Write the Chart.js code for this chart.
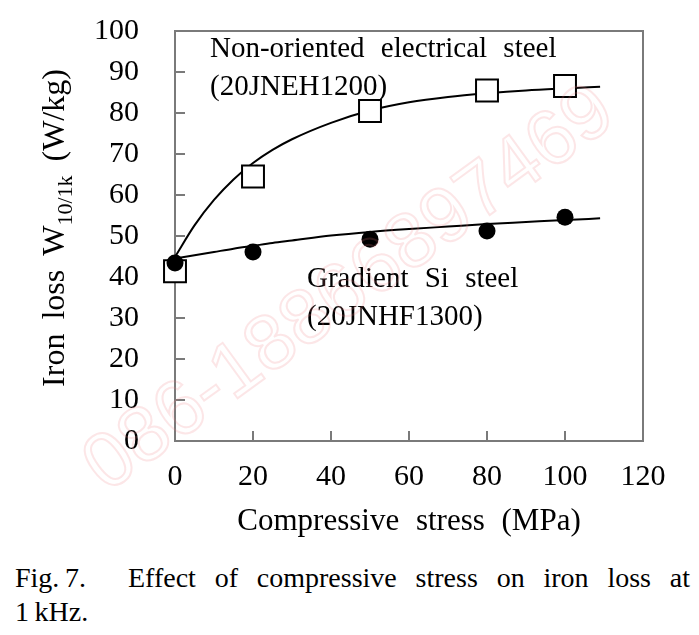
<!DOCTYPE html>
<html>
<head>
<meta charset="utf-8">
<script src="https://cdn.jsdelivr.net/npm/chart.js@4.4.1/dist/chart.umd.min.js"></script>
<style>
  html, body { margin: 0; padding: 0; background: #fff; width: 699px; height: 635px; overflow: hidden; }
  #chartBox { position: absolute; left: 0; top: -15px; width: 699px; height: 563px; }
  #caption { position: absolute; left: 15px; top: 561px; width: 675px;
    font-family: "Liberation Serif", "Times New Roman", serif; font-size: 28px; line-height: 34px; color: #000; }
  #caption .l1 { text-align: justify; text-align-last: justify; }
</style>
</head>
<body>
<div id="chartBox"><canvas id="chart" width="699" height="563"></canvas></div>
<div id="caption">
  <div class="l1">Fig.&#8201;7.&#8195;&#8194;Effect of compressive stress on iron loss at</div>
  <div>1&#8201;kHz.</div>
</div>
<script>
// ---- data ----
const stressMPa       = [0, 20, 50, 80, 100];
const nonOrientedLoss = [41.4, 64.5, 80.5, 85.5, 86.6];
const gradientLoss    = [43.4, 46.1, 49.2, 51.2, 54.6];

// fitted curves drawn in the figure
const fitStress      = [0, 5, 10, 15, 20, 25, 30, 40, 50, 60, 70, 80, 90, 100, 109];
const nonOrientedFit = [44.9, 52.6, 58.8, 63.8, 67.8, 71.0, 73.6, 77.6, 80.6, 82.6, 83.9, 84.8, 85.5, 86.0, 86.4];
const gradientFit    = [44.5, 45.3, 46.1, 46.9, 47.6, 48.3, 48.9, 50.1, 51.0, 51.7, 52.3, 52.9, 53.4, 53.9, 54.3];

const xTickValues = [0, 20, 40, 60, 80, 100, 120];
const yTickValues = [0, 10, 20, 30, 40, 50, 60, 70, 80, 90, 100];

const xTitle = 'Compressive stress (MPa)';
const yTitleMain = 'Iron loss W';
const yTitleSub = '10/1k';
const yTitleTail = ' (W/kg)';
const labelNonOriented = ['Non-oriented electrical steel', '(20JNEH1200)'];
const labelGradient = ['Gradient Si steel', '(20JNHF1300)'];
const watermarkText = '086-18866897469';

const SERIF = '"Liberation Serif", "Times New Roman", serif';
const CANVAS_H = 563;
const AXIS_BOTTOM = 456;   // x axis position inside the canvas

function pts(xs, ys) { return xs.map((x, i) => ({ x: x, y: ys[i] })); }

function drawSpaced(ctx, text, x, y, extra) {
  const words = text.split(' ');
  const sp = ctx.measureText(' ').width + extra;
  let cx = x;
  words.forEach((w) => {
    ctx.fillText(w, cx, y);
    cx += ctx.measureText(w).width + sp;
  });
  return cx - sp - x;
}
function spacedWidth(ctx, text, extra) {
  const words = text.split(' ');
  let w = 0;
  words.forEach(t => { w += ctx.measureText(t).width; });
  return w + (words.length - 1) * (ctx.measureText(' ').width + extra);
}

const decorPlugin = {
  id: 'decor',
  beforeDraw(chart) {
    const ctx = chart.ctx;
    if ('wordSpacing' in ctx) ctx.wordSpacing = '9px';
  },
  beforeDatasetsDraw(chart) {
    const { ctx, chartArea: a, scales } = chart;
    ctx.save();
    ctx.strokeStyle = '#7a7a7a';
    ctx.lineWidth = 2;
    ctx.strokeRect(a.left, a.top, a.right - a.left, a.bottom - a.top);
    ctx.beginPath();
    yTickValues.forEach(v => {
      if (v === 0 || v === 100) return;
      const py = Math.round(scales.y.getPixelForValue(v));
      ctx.moveTo(a.left, py); ctx.lineTo(a.left + 10, py);
    });
    xTickValues.forEach(v => {
      if (v === 0 || v === 120) return;
      const px = Math.round(scales.x.getPixelForValue(v));
      ctx.moveTo(px, a.bottom); ctx.lineTo(px, a.bottom - 10);
    });
    ctx.stroke();
    ctx.restore();
  },
  afterDatasetsDraw(chart) {
    const { ctx, chartArea: a } = chart;
    ctx.save();
    if ('wordSpacing' in ctx) ctx.wordSpacing = '0px';
    ctx.fillStyle = '#000';
    ctx.textBaseline = 'alphabetic';
    ctx.textAlign = 'left';
    ctx.font = '29px ' + SERIF;
    drawSpaced(ctx, labelNonOriented[0], a.left + 35, a.top + 26, 9);
    drawSpaced(ctx, labelNonOriented[1], a.left + 35, a.top + 64, 9);
    drawSpaced(ctx, labelGradient[0], a.left + 132, a.top + 256, 9);
    drawSpaced(ctx, labelGradient[1], a.left + 132, a.top + 294, 9);

    // y axis title with subscript, rotated
    const cx = 64, cy = a.top + 197;
    ctx.translate(cx, cy);
    ctx.rotate(-Math.PI / 2);
    const mainFont = '32px ' + SERIF, subFont = '22px ' + SERIF;
    ctx.font = mainFont;
    const w1 = spacedWidth(ctx, yTitleMain, 6);
    const w3 = spacedWidth(ctx, yTitleTail, 6);
    ctx.font = subFont;
    const w2 = ctx.measureText(yTitleSub).width;
    let x0 = -(w1 + w2 + w3) / 2;
    ctx.font = mainFont;
    drawSpaced(ctx, yTitleMain, x0, 0, 6);
    x0 += w1;
    ctx.font = subFont;
    ctx.fillText(yTitleSub, x0, 8);
    x0 += w2;
    ctx.font = mainFont;
    drawSpaced(ctx, yTitleTail, x0, 0, 6);
    ctx.restore();
  },
  afterDraw(chart) {
    const { ctx, chartArea: a } = chart;
    ctx.save();
    ctx.translate(350, a.top + 259);
    ctx.rotate(-36 * Math.PI / 180);
    ctx.font = '78px "Liberation Sans", sans-serif';
    ctx.textAlign = 'center';
    ctx.textBaseline = 'middle';
    ctx.strokeStyle = 'rgba(240, 120, 130, 0.19)';
    ctx.lineWidth = 2;
    ctx.strokeText(watermarkText, 0, 0);
    ctx.restore();
  }
};

const tickFont = { family: SERIF, size: 30 };

new Chart(document.getElementById('chart'), {
  type: 'scatter',
  data: {
    datasets: [
      {
        label: 'Non-oriented fit', data: pts(fitStress, nonOrientedFit), showLine: true,
        borderColor: '#000', borderWidth: 2, pointRadius: 0, cubicInterpolationMode: 'monotone',
        order: 3, clip: false
      },
      {
        label: 'Gradient fit', data: pts(fitStress, gradientFit), showLine: true,
        borderColor: '#000', borderWidth: 2, pointRadius: 0, cubicInterpolationMode: 'monotone',
        order: 2, clip: false
      },
      {
        label: 'Non-oriented electrical steel (20JNEH1200)', data: pts(stressMPa, nonOrientedLoss),
        pointStyle: 'rect', pointRadius: 15.5, pointBackgroundColor: '#fff',
        pointBorderColor: '#000', pointBorderWidth: 2, showLine: false, order: 1, clip: false
      },
      {
        label: 'Gradient Si steel (20JNHF1300)', data: pts(stressMPa, gradientLoss),
        pointStyle: 'circle', pointRadius: 8.5, pointBackgroundColor: '#000',
        pointBorderColor: '#000', pointBorderWidth: 0, showLine: false, order: 0, clip: false
      }
    ]
  },
  options: {
    responsive: false,
    animation: false,
    devicePixelRatio: 1,
    layout: { padding: { left: 0, right: 56, top: 0, bottom: 0 } },
    plugins: { legend: { display: false }, tooltip: { enabled: false } },
    scales: {
      x: {
        type: 'linear', min: 0, max: 120,
        afterBuildTicks: s => { s.ticks = xTickValues.map(v => ({ value: v })); },
        afterFit: s => { s.height = CANVAS_H - AXIS_BOTTOM; },
        grid: { display: false }, border: { display: false },
        ticks: { font: tickFont, color: '#000', padding: 10, maxRotation: 0, autoSkip: false },
        title: { display: true, text: xTitle, color: '#000',
          font: { family: SERIF, size: 31, lineHeight: 1 }, padding: { top: 0, bottom: 11 } }
      },
      y: {
        type: 'linear', min: 0, max: 100,
        afterBuildTicks: s => { s.ticks = yTickValues.map(v => ({ value: v })); },
        afterFit: s => { s.width = 175; },
        grid: { display: false }, border: { display: false },
        ticks: { font: tickFont, color: '#000', padding: 28, autoSkip: false }
      }
    }
  },
  plugins: [decorPlugin]
});
</script>
</body>
</html>
